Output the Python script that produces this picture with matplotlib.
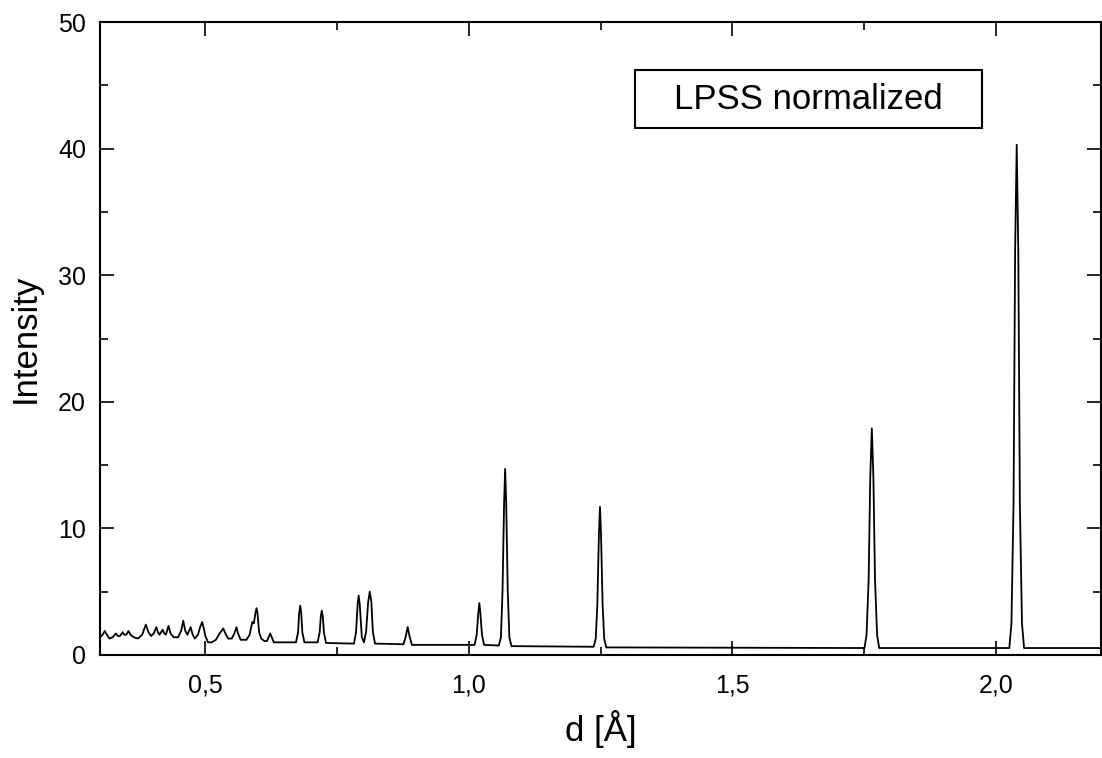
import matplotlib
matplotlib.use("Agg")
import matplotlib.pyplot as plt
import matplotlib.ticker as ticker
from matplotlib.patches import Rectangle

plt.rcParams['font.family'] = ['Liberation Sans', 'DejaVu Sans']

# trace: d spacing [Å] and normalized intensity
d_values = [
    # low-d region, dense overlapping reflections
    0.300, 0.305, 0.309, 0.313, 0.318, 0.324, 0.330, 0.334, 0.338, 0.343,
    0.346, 0.350, 0.354, 0.358, 0.364, 0.372, 0.380, 0.387, 0.392, 0.397,
    0.402, 0.407, 0.410, 0.413, 0.416, 0.419, 0.422, 0.425, 0.430, 0.434,
    0.440, 0.448, 0.454, 0.458, 0.462, 0.466, 0.469, 0.472, 0.476, 0.480,
    0.486, 0.490, 0.494, 0.497, 0.500, 0.505, 0.512, 0.520, 0.527, 0.534,
    0.538, 0.543, 0.550, 0.555, 0.559, 0.562, 0.567, 0.578, 0.584, 0.589,
    0.592, 0.595, 0.597, 0.599, 0.602, 0.606, 0.612, 0.617, 0.620, 0.623,
    0.626, 0.630,
    # isolated reflections
    0.672, 0.676, 0.678, 0.680, 0.682, 0.684, 0.688,
    0.713, 0.717, 0.719, 0.721, 0.723, 0.725, 0.729,
    0.782, 0.786, 0.789, 0.791, 0.793, 0.797, 0.801, 0.805, 0.809, 0.812,
    0.815, 0.818, 0.822,
    0.876, 0.880, 0.884, 0.888, 0.892,
    1.011, 1.015, 1.018, 1.020, 1.022, 1.025, 1.029,
    1.057, 1.061, 1.064, 1.067, 1.069, 1.071, 1.074, 1.077, 1.081,
    1.237, 1.241, 1.244, 1.247, 1.249, 1.251, 1.254, 1.257, 1.261,
    1.751, 1.755, 1.759, 1.762, 1.765, 1.768, 1.771, 1.775, 1.779,
    2.026, 2.030, 2.034, 2.037, 2.040, 2.043, 2.046, 2.050, 2.054,
    2.200,
]
intensity = [
    1.4, 1.6, 1.9, 1.6, 1.3, 1.4, 1.7, 1.5, 1.5, 1.8,
    1.6, 1.6, 1.9, 1.6, 1.4, 1.3, 1.6, 2.4, 1.8, 1.5,
    1.7, 2.2, 1.8, 1.6, 1.8, 2.0, 1.7, 1.6, 2.3, 1.7,
    1.4, 1.4, 1.9, 2.7, 1.9, 1.6, 1.9, 2.2, 1.6, 1.3,
    1.6, 2.2, 2.6, 2.1, 1.5, 1.0, 1.0, 1.2, 1.7, 2.1,
    1.7, 1.3, 1.3, 1.7, 2.2, 1.7, 1.2, 1.2, 1.6, 2.6,
    2.5, 3.3, 3.7, 3.3, 1.8, 1.3, 1.1, 1.1, 1.4, 1.7,
    1.4, 1.0,
    1.0, 1.8, 3.3, 3.9, 3.3, 1.8, 1.0,
    1.0, 1.8, 3.0, 3.5, 3.0, 1.8, 0.95,
    0.9, 1.8, 4.0, 4.7, 4.0, 1.4, 1.0, 1.8, 4.2, 5.0,
    4.2, 1.8, 0.9,
    0.85, 1.4, 2.2, 1.4, 0.8,
    0.8, 1.6, 3.3, 4.1, 3.3, 1.6, 0.8,
    0.75, 1.4, 5.0, 12.0, 14.7, 12.0, 5.0, 1.4, 0.7,
    0.65, 1.3, 4.0, 9.5, 11.7, 9.5, 4.0, 1.3, 0.6,
    0.55, 1.6, 6.0, 14.0, 17.9, 14.0, 6.0, 1.6, 0.55,
    0.55, 2.5, 12.0, 32.0, 40.3, 32.0, 12.0, 2.5, 0.55,
    0.55,
]

x_ticks = [0.5, 1.0, 1.5, 2.0]
y_ticks = [0, 10, 20, 30, 40, 50]
box_label = 'LPSS normalized'


def plot_pattern(x, y):
    fig = plt.figure(figsize=(11.02, 7.58), dpi=100)
    ax = fig.add_axes([100 / 1102, 103 / 758, 1001 / 1102, 633 / 758])

    ax.plot(x, y, color='black', linewidth=1.3)

    ax.set_xlim(0.3, 2.2)
    ax.set_ylim(0, 50)
    ax.set_xticks(x_ticks)
    ax.set_yticks(y_ticks)
    ax.xaxis.set_minor_locator(ticker.MultipleLocator(0.25))
    ax.yaxis.set_minor_locator(ticker.MultipleLocator(5))
    ax.xaxis.set_major_formatter(
        ticker.FuncFormatter(lambda v, pos: f'{v:.1f}'.replace('.', ',')))

    ax.tick_params(which='both', direction='in', top=True, right=True,
                   width=1.2, labelsize=18)
    ax.tick_params(which='major', length=10)
    ax.tick_params(which='minor', length=6)
    ax.tick_params(axis='x', which='major', pad=13)
    ax.tick_params(axis='y', which='major', pad=10)
    for spine in ax.spines.values():
        spine.set_linewidth(1.5)

    ax.set_xlabel('d [Å]', fontsize=25, labelpad=9)
    ax.set_ylabel('Intensity', fontsize=25, labelpad=12)

    ax.add_patch(Rectangle((0.5345, 0.8325), 0.3465, 0.0915,
                           transform=ax.transAxes, fill=False,
                           edgecolor='black', linewidth=1.5))
    ax.text(0.708, 0.878, box_label, transform=ax.transAxes,
            ha='center', va='center', fontsize=25)

    plt.savefig('out.png', dpi=100)
    plt.close(fig)


if __name__ == '__main__':
    plot_pattern(d_values, intensity)
